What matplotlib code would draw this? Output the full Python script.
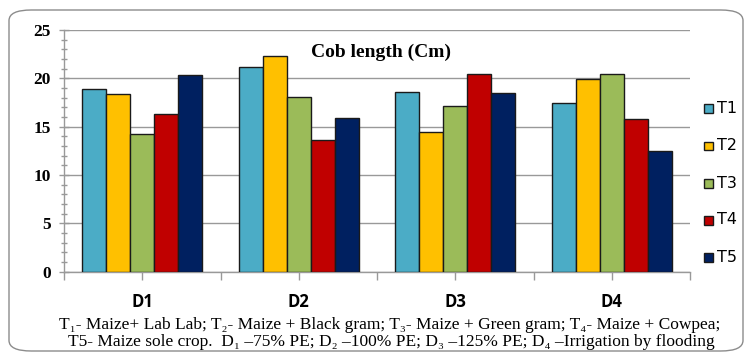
import matplotlib
matplotlib.use("Agg")
import matplotlib.pyplot as plt
import numpy as np
from matplotlib.patches import FancyBboxPatch, Rectangle

categories = ["D1", "D2", "D3", "D4"]
series_names = ["T1", "T2", "T3", "T4", "T5"]
T1 = [18.9, 21.2, 18.6, 17.5]
T2 = [18.4, 22.3, 14.5, 19.9]
T3 = [14.2, 18.1, 17.1, 20.4]
T4 = [16.3, 13.6, 20.4, 15.8]
T5 = [20.3, 15.9, 18.5, 12.5]
series_values = [T1, T2, T3, T4, T5]
colors = ["#4BACC6", "#FFC000", "#9BBB59", "#C00000", "#002060"]
yticks = [0, 5, 10, 15, 20, 25]

W, H = 745, 352
fig = plt.figure(figsize=(W / 100, H / 100), dpi=100)

# rounded chart-area border
border = FancyBboxPatch((9 / W, 1 / H), (743 - 9) / W, (342 - 1) / H,
                        boxstyle="round,pad=0,rounding_size=0.03",
                        transform=fig.transFigure, fill=False,
                        edgecolor="#8c8c8c", linewidth=1.0)
fig.patches.append(border)

ax = fig.add_axes([64 / W, 80.3 / H, (690 - 64) / W, (322 - 80.3) / H])

n = len(series_names)
w = 1 / 6.5
x = np.arange(len(categories))
for i, (name, vals) in enumerate(zip(series_names, series_values)):
    ax.bar(x + (i - (n - 1) / 2) * w, vals, width=w, color=colors[i],
           edgecolor="#1a1a1a", linewidth=1.0, label=name, zorder=3)

ax.set_xlim(-0.5, len(categories) - 0.5)
ax.set_ylim(0, 25)
ax.set_yticks(yticks)
ax.set_yticks(np.arange(0, 26, 1), minor=True)
ax.yaxis.grid(True, which="major", color="#999999", linewidth=1.0, zorder=0)
ax.set_axisbelow(True)

for s in ["top", "right"]:
    ax.spines[s].set_visible(False)
for s in ["left", "bottom"]:
    ax.spines[s].set_color("#999999")
    ax.spines[s].set_linewidth(1.0)

ax.tick_params(axis="y", which="both", direction="inout", length=7,
               color="#999999", width=1.0, pad=6)
ax.tick_params(axis="y", which="minor", length=5)
ax.set_yticklabels([str(t) for t in yticks], fontfamily="Liberation Serif",
                   fontweight="bold", fontsize=12.5)

ax.set_xticks(x)
ax.set_xticks(np.arange(-0.5, len(categories), 1.0), minor=True)
ax.set_xticklabels(categories, fontfamily="Open Sans", fontweight="bold",
                   fontsize=12)
ax.tick_params(axis="x", which="both", direction="out", length=6,
               color="#999999", width=1.0, pad=9)

fig.text(381 / W, 1 - 52 / H, "Cob length (Cm)", ha="center", va="center",
         fontfamily="Liberation Serif", fontweight="bold", fontsize=14)

# legend
leg_y = [108, 146, 183, 220, 257]
for name, c, yy in zip(series_names, colors, leg_y):
    fig.patches.append(Rectangle((704 / W, 1 - (yy + 4.5) / H), 9 / W, 9 / H,
                                 transform=fig.transFigure, facecolor=c,
                                 edgecolor="#1a1a1a", linewidth=1.0))
    fig.text(717 / W, 1 - yy / H, name, ha="left", va="center",
             fontfamily="DejaVu Sans", fontsize=11.5)

line1 = ("T\u2081- Maize+ Lab Lab; T\u2082- Maize + Black gram; T\u2083- Maize + Green gram; "
         "T\u2084- Maize + Cowpea;")
line2 = ("T5- Maize sole crop.  D\u2081 \u201375% PE; D\u2082 \u2013100% PE; D\u2083 \u2013125% PE; "
         "D\u2084 \u2013Irrigation by flooding")
serif = ["Liberation Serif", "DejaVu Serif"]
fig.text(390 / W, 1 - 325 / H, line1, ha="center", va="center",
         family=serif, fontsize=12.5)
fig.text(391 / W, 1 - 342.5 / H, line2, ha="center", va="center",
         family=serif, fontsize=12.5)

fig.savefig("out.png", dpi=100)
